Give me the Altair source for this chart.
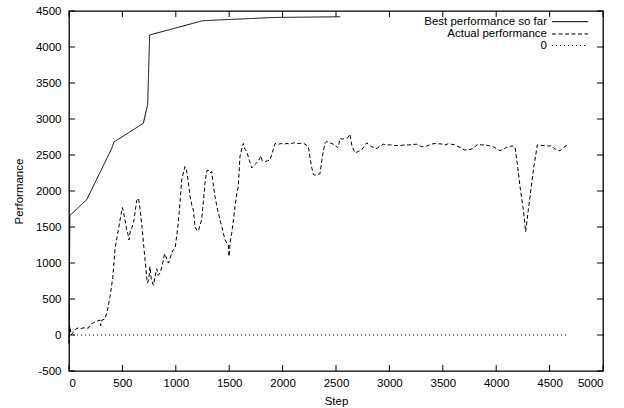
import altair as alt
import pandas as pd

# ---- data ----
best_steps = [0, 8, 166, 400, 420, 696, 737, 755, 1252, 1913, 2540]
best_values = [-100, 1660, 1880, 2590, 2680, 2940, 3208, 4167, 4365, 4410, 4420]

actual_steps = [0, 8, 20, 40, 60, 90, 110, 140, 181, 200, 228, 260, 290, 296, 310, 337, 360, 384, 410, 431,
                455, 478, 500, 512, 524, 540, 552, 562, 575, 587, 609, 634, 650, 665, 680, 696, 712, 733, 746, 758,
                770, 790, 805, 821, 835, 852, 870, 883, 895, 910, 930, 945, 961, 975, 993, 1023, 1040, 1055, 1070, 1086,
                1100, 1115, 1133, 1150, 1164, 1180, 1195, 1211, 1225, 1242, 1258, 1273, 1290, 1304, 1320, 1336, 1350, 1367, 1390, 1414,
                1440, 1461, 1480, 1492, 1498, 1510, 1523, 1540, 1554, 1570, 1585, 1601, 1620, 1632, 1648, 1664, 1690, 1711, 1735, 1757,
                1770, 1785, 1795, 1810, 1835, 1860, 1882, 1905, 1929, 1960, 1990, 2007, 2040, 2070, 2100, 2130, 2160, 2194, 2220, 2241,
                2258, 2272, 2288, 2303, 2330, 2350, 2365, 2381, 2397, 2413, 2440, 2460, 2490, 2515, 2522, 2537, 2560, 2584, 2610, 2631,
                2640, 2650, 2678, 2710, 2740, 2787, 2810, 2834, 2860, 2881, 2910, 2943, 2980, 3021, 3060, 3099, 3140, 3177, 3215, 3255,
                3280, 3302, 3330, 3350, 3390, 3427, 3465, 3505, 3530, 3552, 3580, 3614, 3640, 3670, 3700, 3739, 3786, 3810, 3832, 3860,
                3895, 3930, 3973, 4000, 4036, 4070, 4098, 4115, 4130, 4150, 4176, 4200, 4223, 4254, 4276, 4301, 4325, 4348, 4370, 4385,
                4420, 4457, 4490, 4519, 4541, 4570, 4597, 4620, 4635, 4666]
actual_values = [-120, 120, 0, 40, 80, 100, 90, 100, 95, 150, 170, 190, 208, 130, 210, 220, 350, 530, 800, 1200,
                 1400, 1600, 1770, 1700, 1600, 1460, 1400, 1320, 1450, 1480, 1600, 1870, 1900, 1750, 1550, 1300, 1040, 720, 760, 950,
                 780, 690, 800, 920, 830, 860, 950, 1040, 1130, 1080, 1000, 1050, 1140, 1180, 1200, 1550, 1850, 2150, 2250, 2340,
                 2290, 2150, 1930, 1800, 1740, 1500, 1460, 1440, 1520, 1600, 1850, 2110, 2280, 2290, 2250, 2270, 2100, 1920, 1750, 1600,
                 1450, 1320, 1270, 1250, 1090, 1300, 1410, 1600, 1780, 1950, 2060, 2480, 2600, 2660, 2580, 2550, 2420, 2320, 2360, 2390,
                 2410, 2450, 2490, 2420, 2410, 2420, 2430, 2540, 2660, 2650, 2660, 2650, 2660, 2650, 2670, 2660, 2660, 2665, 2640, 2615,
                 2450, 2330, 2230, 2220, 2225, 2240, 2400, 2550, 2660, 2690, 2670, 2660, 2640, 2600, 2610, 2730, 2720, 2730, 2740, 2790,
                 2700, 2620, 2530, 2550, 2570, 2670, 2640, 2615, 2600, 2590, 2620, 2650, 2640, 2640, 2630, 2630, 2640, 2640, 2645, 2650,
                 2630, 2615, 2620, 2625, 2650, 2660, 2655, 2650, 2640, 2660, 2650, 2640, 2620, 2600, 2570, 2570, 2590, 2630, 2650, 2640,
                 2640, 2630, 2615, 2590, 2560, 2580, 2610, 2600, 2620, 2625, 2610, 2350, 2060, 1740, 1435, 1740, 2020, 2290, 2500, 2640,
                 2635, 2630, 2625, 2630, 2590, 2570, 2560, 2590, 2610, 2640]

zero_steps = [0, 4680]
zero_values = [0, 0]

series_names = ["Best performance so far", "Actual performance", "0"]
x_ticks = [0, 500, 1000, 1500, 2000, 2500, 3000, 3500, 4000, 4500, 5000]
y_ticks = [-500, 0, 500, 1000, 1500, 2000, 2500, 3000, 3500, 4000, 4500]

# ---- layout ----
W, H = 534, 360
FONT = "Liberation Sans"
FS = 11.5
dashes = [[1, 0], [4, 2.5], [1, 3]]

xscale = alt.Scale(domain=[0, 5000], nice=False, zero=False)
yscale = alt.Scale(domain=[-500, 4500], nice=False, zero=False)

best_df = pd.DataFrame({"step": best_steps, "value": best_values})
act_df = pd.DataFrame({"step": actual_steps, "value": actual_values})
zero_df = pd.DataFrame({"step": zero_steps, "value": zero_values})
xt_df = pd.DataFrame({"step": x_ticks})
yt_df = pd.DataFrame({"value": y_ticks})

x_axis = alt.Axis(values=x_ticks, ticks=False, domain=False, grid=False, labelPadding=6,
                  labelExpr="'' + datum.value",
                  labelFontSize=FS, labelFont=FONT, labelColor="black",
                  title="Step", titleFontSize=FS, titleFont=FONT, titleFontWeight="normal",
                  titleColor="black", titleX=W / 2, titleY=30, titleBaseline="middle")
y_axis = alt.Axis(values=y_ticks, ticks=False, domain=False, grid=False, labelPadding=8,
                  labelExpr="'' + datum.value",
                  labelFontSize=FS, labelFont=FONT, labelColor="black",
                  title="Performance", titleFontSize=FS, titleFont=FONT, titleFontWeight="normal",
                  titleColor="black", titleX=-50, titleY=H / 2, titleAngle=270,
                  titleBaseline="middle", titleAlign="center")


def X():
    return alt.X("step:Q", scale=xscale, axis=x_axis, title="Step")


def Y():
    return alt.Y("value:Q", scale=yscale, axis=y_axis, title="Performance")


best = alt.Chart(best_df).mark_line(color="black", strokeWidth=1, strokeDash=dashes[0]).encode(
    x=X(), y=Y(), order="step:Q")
actual = alt.Chart(act_df).mark_line(color="black", strokeWidth=1, strokeDash=dashes[1]).encode(
    x=X(), y=Y(), order="step:Q")
zero = alt.Chart(zero_df).mark_line(color="black", strokeWidth=1, strokeDash=dashes[2]).encode(
    x=X(), y=Y())

TL = 6
tick_layers = [
    alt.Chart(xt_df).mark_rule(color="black", strokeWidth=1).encode(
        x=X(), y=alt.value(H), y2=alt.value(H - TL)),
    alt.Chart(xt_df).mark_rule(color="black", strokeWidth=1).encode(
        x=X(), y=alt.value(0), y2=alt.value(TL)),
    alt.Chart(yt_df).mark_rule(color="black", strokeWidth=1).encode(
        y=Y(), x=alt.value(0), x2=alt.value(TL)),
    alt.Chart(yt_df).mark_rule(color="black", strokeWidth=1).encode(
        y=Y(), x=alt.value(W), x2=alt.value(W - TL)),
]

# gnuplot-style key (text right-aligned, line sample on its right)
legend_layers = []
row_y = [10.7, 23, 34.5]
for i, name in enumerate(series_names):
    legend_layers.append(
        alt.Chart(pd.DataFrame({"label": [name]})).mark_text(
            align="right", baseline="middle", font=FONT, fontSize=FS, color="black"
        ).encode(text="label:N", x=alt.value(478), y=alt.value(row_y[i]))
    )
    legend_layers.append(
        alt.Chart(pd.DataFrame({"label": [name]})).mark_rule(
            color="black", strokeWidth=1, strokeDash=dashes[i]
        ).encode(x=alt.value(483), x2=alt.value(519), y=alt.value(row_y[i]))
    )

chart = alt.layer(best, actual, zero, *tick_layers, *legend_layers).properties(
    width=W, height=H,
    background="white",
    autosize=alt.AutoSizeParams(type="none"),
    padding={"left": 69, "top": 11, "right": 21, "bottom": 37},
).configure_view(
    stroke="black", strokeWidth=1.3
).configure_axis(
    titleFontWeight="normal", labelFont=FONT, titleFont=FONT
)

chart.save("out.html", embed_options={"renderer": "svg", "actions": False})
